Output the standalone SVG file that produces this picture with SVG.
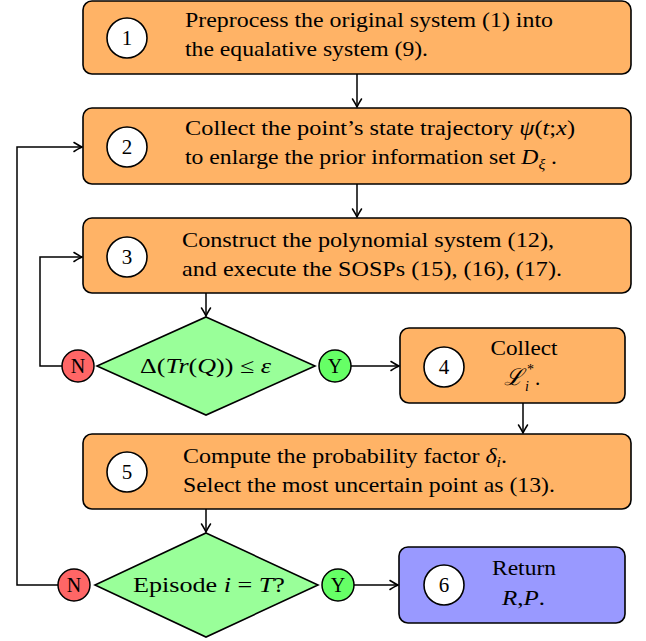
<svg xmlns="http://www.w3.org/2000/svg" width="646" height="641" viewBox="0 0 646 641">
  <defs>
    <style>
      .box { stroke: #000; stroke-width: 1.6; }
      .orange { fill: #FFB366; }
      .blue { fill: #9999FF; }
      .dia { fill: #99FF99; stroke: #000; stroke-width: 1.6; }
      .num { fill: #fff; stroke: #000; stroke-width: 1.6; }
      .no { fill: #FF6666; stroke: #000; stroke-width: 1.5; }
      .yes { fill: #66FF66; stroke: #000; stroke-width: 1.5; }
      text { font-family: "Liberation Serif", "DejaVu Serif", serif; font-size: 21px; fill: #000; }
      .c { text-anchor: middle; }
      .it { font-style: italic; }
      .sub { font-size: 14px; }
      .conn { fill: none; stroke: #000; stroke-width: 1.5; }
    </style>
    <marker id="arr" markerUnits="userSpaceOnUse" markerWidth="14" markerHeight="12" viewBox="-10 -6 12 12" refX="0" refY="0" orient="auto">
      <path d="M-8,-4.5 Q-2.5,-1 0,0 Q-2.5,1 -8,4.5" fill="none" stroke="#000" stroke-width="1.5" stroke-linecap="round"/>
    </marker>
  </defs>

  <g id="connectors">
    <path class="conn" d="M357,74 V107" marker-end="url(#arr)"/>
    <path class="conn" d="M357,184 V217" marker-end="url(#arr)"/>
    <path class="conn" d="M206,293 V316" marker-end="url(#arr)"/>
    <path class="conn" d="M351,366 H399" marker-end="url(#arr)"/>
    <path class="conn" d="M62,366 H40 V257 H82" marker-end="url(#arr)"/>
    <path class="conn" d="M523,403 V433" marker-end="url(#arr)"/>
    <path class="conn" d="M206,509 V532" marker-end="url(#arr)"/>
    <path class="conn" d="M354,585 H398" marker-end="url(#arr)"/>
    <path class="conn" d="M58,585 H17 V147 H82" marker-end="url(#arr)"/>
  </g>

  <g id="node1">
    <rect class="box orange" x="83" y="1" width="548" height="73" rx="9"/>
    <circle class="num" cx="127" cy="38" r="20"/>
    <text class="c" x="127" y="45">1</text>
    <text x="185" y="27" textLength="368" lengthAdjust="spacingAndGlyphs">Preprocess the original system (1) into</text>
    <text x="185" y="56" textLength="243" lengthAdjust="spacingAndGlyphs">the equalative system (9).</text>
  </g>

  <g id="node2">
    <rect class="box orange" x="83" y="108" width="548" height="76" rx="9"/>
    <circle class="num" cx="127" cy="147" r="20"/>
    <text class="c" x="127" y="154">2</text>
    <text x="185" y="135" textLength="390" lengthAdjust="spacingAndGlyphs">Collect the point’s state trajectory <tspan class="it">ψ</tspan>(<tspan class="it">t</tspan>;<tspan class="it">x</tspan>)</text>
    <text x="185" y="164" textLength="372" lengthAdjust="spacingAndGlyphs">to enlarge the prior information set <tspan class="it">D</tspan><tspan class="sub it" dy="5">ξ</tspan><tspan dy="-5"> .</tspan></text>
  </g>

  <g id="node3">
    <rect class="box orange" x="83" y="218" width="548" height="75" rx="9"/>
    <circle class="num" cx="127" cy="257" r="20"/>
    <text class="c" x="127" y="264">3</text>
    <text x="182" y="247" textLength="372" lengthAdjust="spacingAndGlyphs">Construct the polynomial system (12),</text>
    <text x="182" y="276" textLength="380" lengthAdjust="spacingAndGlyphs">and execute the SOSPs (15), (16), (17).</text>
  </g>

  <g id="decision1">
    <polygon class="dia" points="206,317 315,366 206,415 97,366"/>
    <text x="140" y="373" textLength="131" lengthAdjust="spacingAndGlyphs">Δ(<tspan class="it">Tr</tspan>(<tspan class="it">Q</tspan>)) ≤ <tspan class="it">ε</tspan></text>
    <circle class="no" cx="78" cy="366" r="16"/>
    <text class="c" x="78" y="373" style="font-size:20px">N</text>
    <circle class="yes" cx="335" cy="366" r="16"/>
    <text class="c" x="335" y="373" style="font-size:20px">Y</text>
  </g>

  <g id="node4">
    <rect class="box orange" x="400" y="328" width="225" height="75" rx="9"/>
    <circle class="num" cx="444" cy="367" r="20"/>
    <text class="c" x="444" y="374">4</text>
    <text class="c" x="524" y="355" textLength="67" lengthAdjust="spacingAndGlyphs">Collect</text>
    <text x="504" y="385"><tspan class="it" style="font-size:23px">ℒ</tspan><tspan class="sub it" x="525" y="391">i</tspan><tspan class="sub" x="527" y="374">*</tspan><tspan x="535" y="385">.</tspan></text>
  </g>

  <g id="node5">
    <rect class="box orange" x="83" y="434" width="548" height="75" rx="9"/>
    <circle class="num" cx="127" cy="472" r="20"/>
    <text class="c" x="127" y="479">5</text>
    <text x="183" y="463" textLength="324" lengthAdjust="spacingAndGlyphs">Compute the probability factor <tspan class="it">δ</tspan><tspan class="sub it" dy="4">i</tspan><tspan dy="-4">.</tspan></text>
    <text x="183" y="492" textLength="372" lengthAdjust="spacingAndGlyphs">Select the most uncertain point as (13).</text>
  </g>

  <g id="decision2">
    <polygon class="dia" points="206,533 318,585 206,637 95,585"/>
    <text x="133" y="592" textLength="152" lengthAdjust="spacingAndGlyphs">Episode <tspan class="it">i</tspan> = <tspan class="it">T</tspan>?</text>
    <circle class="no" cx="74" cy="585" r="16"/>
    <text class="c" x="74" y="592" style="font-size:20px">N</text>
    <circle class="yes" cx="338" cy="585" r="16"/>
    <text class="c" x="338" y="592" style="font-size:20px">Y</text>
  </g>

  <g id="node6">
    <rect class="box blue" x="399" y="547" width="226" height="76" rx="9"/>
    <circle class="num" cx="444" cy="585" r="20"/>
    <text class="c" x="444" y="592">6</text>
    <text class="c" x="524" y="575" textLength="64" lengthAdjust="spacingAndGlyphs">Return</text>
    <text x="502" y="605" textLength="43" lengthAdjust="spacingAndGlyphs"><tspan class="it">R</tspan>,<tspan class="it">P</tspan>.</text>
  </g>
</svg>
